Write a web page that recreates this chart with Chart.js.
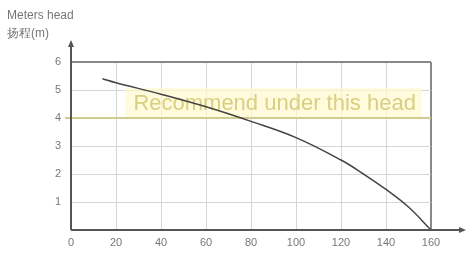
<!DOCTYPE html>
<html>
<head>
	<title>Pump curve</title>
	<!-- Import Chart.js -->
	<script src="https://cdn.jsdelivr.net/npm/chart.js@4/dist/chart.umd.min.js"></script>
	<style>
		body { margin: 0; background: #fff; font-family: "Liberation Sans", Arial, sans-serif; }
		#wrap { position: relative; width: 468px; height: 253px; }
	</style>
</head>
<body>
<div id="wrap">
	<canvas id="chart1" width="468" height="253"></canvas>
</div>
<script>
	// Flow values (x) and head values (y)
	var flow = [14, 20, 40, 60, 80, 100, 120, 130, 140, 150, 160];
	var head = [5.4, 5.26, 4.85, 4.4, 3.88, 3.3, 2.5, 2.0, 1.45, 0.82, 0];
	// Tick labels for both axes
	var xTicks = [0, 20, 40, 60, 80, 100, 120, 140, 160];
	var yTicks = [0, 1, 2, 3, 4, 5, 6];
	// Recommended zone and its label
	var zoneLine = 4;
	var zoneBox = [24, 156, 4, 5.07];
	var zoneText = 'Recommend under this head';
	var zoneTextAt = [90.5, 4.5];
	var titleLines = ['Meters head', '扬程(m)'];

	var points = [];
	for (var i = 0; i < flow.length; i++) {
		points.push({ x: flow[i], y: head[i] });
	}

	// Plugin draws the yellow zone, the axis arrows and the title text
	var extras = {
		id: 'extras',
		beforeDatasetsDraw: function (chart) {
			var c = chart.ctx, xs = chart.scales.x, ys = chart.scales.y;
			var a = chart.chartArea;
			c.save();
			var bx = xs.getPixelForValue(zoneBox[0]), bx2 = xs.getPixelForValue(zoneBox[1]);
			var by = ys.getPixelForValue(zoneBox[3]), by2 = ys.getPixelForValue(zoneBox[2]);
			c.fillStyle = 'rgba(255, 250, 205, 0.7)';
			c.fillRect(bx, by, bx2 - bx, by2 - by);
			c.strokeStyle = '#d2cb90';
			c.lineWidth = 2;
			c.beginPath();
			c.moveTo(a.left - 6, ys.getPixelForValue(zoneLine));
			c.lineTo(a.right, ys.getPixelForValue(zoneLine));
			c.stroke();
			c.font = '22px "Liberation Sans", Arial, sans-serif';
			c.fillStyle = '#d8cf82';
			c.textAlign = 'center';
			c.textBaseline = 'middle';
			c.fillText(zoneText, xs.getPixelForValue(zoneTextAt[0]), ys.getPixelForValue(zoneTextAt[1]));
			c.restore();
		},
		afterDraw: function (chart) {
			var c = chart.ctx, a = chart.chartArea;
			c.save();
			c.strokeStyle = '#555';
			c.fillStyle = '#555';
			c.lineWidth = 2;
			// y axis with arrow
			c.beginPath();
			c.moveTo(a.left, a.bottom);
			c.lineTo(a.left, 44);
			c.stroke();
			c.beginPath();
			c.moveTo(a.left, 40);
			c.lineTo(a.left - 3, 47);
			c.lineTo(a.left + 3, 47);
			c.fill();
			// x axis with arrow
			c.beginPath();
			c.moveTo(a.left, a.bottom);
			c.lineTo(462, a.bottom);
			c.stroke();
			c.beginPath();
			c.moveTo(466, a.bottom);
			c.lineTo(459, a.bottom - 3);
			c.lineTo(459, a.bottom + 3);
			c.fill();
			// title text top left
			c.font = '12px "Liberation Sans", Arial, sans-serif';
			c.fillStyle = '#777';
			c.textAlign = 'left';
			c.textBaseline = 'middle';
			c.fillText(titleLines[0], 7, 16);
			c.fillText(titleLines[1], 7, 34);
			c.restore();
		}
	};

	var ctx = document.getElementById('chart1');
	var chart = new Chart(ctx, {
		type: 'line',
		data: {
			datasets: [{
				data: points,
				borderColor: '#444',
				borderWidth: 1.5,
				pointRadius: 0,
				tension: 0.4,
				fill: false
			}]
		},
		options: {
			responsive: false,
			animation: false,
			layout: { padding: { top: 62, right: 37 } },
			plugins: { legend: { display: false }, tooltip: { enabled: false } },
			scales: {
				x: {
					type: 'linear',
					min: 0,
					max: 160,
					afterBuildTicks: function (s) { s.ticks = xTicks.map(function (v) { return { value: v }; }); },
					afterFit: function (s) { s.height = 23; },
					border: { display: false },
					grid: {
						color: function (g) { return g.tick.value === 160 ? '#888' : '#d6d6d6'; },
						lineWidth: function (g) { return g.tick.value === 160 ? 2 : 1; },
						drawTicks: false
					},
					ticks: { color: '#777', font: { size: 11 }, padding: 6, maxRotation: 0 }
				},
				y: {
					min: 0,
					max: 6,
					afterBuildTicks: function (s) { s.ticks = yTicks.map(function (v) { return { value: v }; }); },
					afterFit: function (s) { s.width = 71; },
					border: { display: false },
					grid: {
						color: function (g) { return g.tick.value === 6 ? '#888' : '#d6d6d6'; },
						lineWidth: function (g) { return g.tick.value === 6 ? 2 : 1; },
						drawTicks: false
					},
					ticks: {
						color: '#777',
						font: { size: 11 },
						padding: 10,
						callback: function (v) { return v === 0 ? '' : v; }
					}
				}
			}
		},
		plugins: [extras]
	});
</script>
</body>
</html>
